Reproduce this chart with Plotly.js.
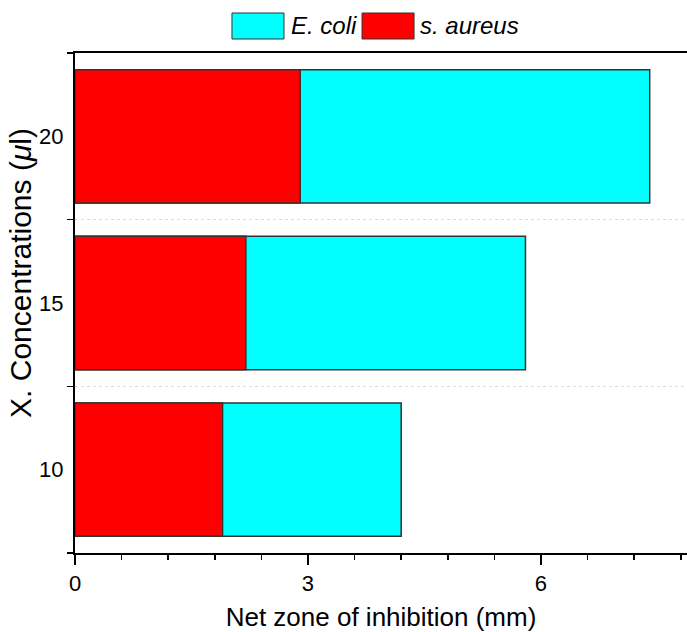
<!DOCTYPE html>
<html>
<head>
<meta charset="utf-8">
<script src="https://cdn.plot.ly/plotly-3.0.1.min.js"></script>
<style>html,body{margin:0;padding:0;background:#fff;}#chart{width:687px;height:632px;}</style>
</head>
<body>
<div id="chart"></div>
<script>
const categories = ["10", "15", "20"];
const seriesNames = ["E. coli", "s. aureus"];
const ecoli = [4.2, 5.8, 7.4];
const saureus = [1.9, 2.2, 2.9];
const xTickVals = [0, 3, 6];
const colors = ["#00ffff", "#ff0000"];

const font = "Liberation Sans, Arial, sans-serif";

const traces = [
  {type: "bar", orientation: "h", name: seriesNames[0], y: categories, x: ecoli,
   width: 0.8, marker: {color: colors[0], line: {color: "#333333", width: 1.5}}, showlegend: false, hoverinfo: "x+y+name"},
  {type: "bar", orientation: "h", name: seriesNames[1], y: categories, x: saureus,
   width: 0.8, marker: {color: colors[1], line: {color: "#333333", width: 1.5}}, showlegend: false, hoverinfo: "x+y+name"}
];

const legendBoxes = [[0.2565, 0.3415], [0.4690, 0.5540]];
const legendTextX = [0.349, 0.561];
const shapes = [];
const annotations = [];
for (let i = 0; i < seriesNames.length; i++) {
  shapes.push({type: "rect", xref: "paper", yref: "paper", x0: legendBoxes[i][0], x1: legendBoxes[i][1], y0: 1.028, y1: 1.080,
    fillcolor: colors[i], line: {color: "#333333", width: 1}});
  annotations.push({xref: "paper", yref: "paper", x: legendTextX[i], y: 1.054, xanchor: "left", yanchor: "middle",
    text: "<i>" + seriesNames[i] + "</i>", showarrow: false, font: {family: font, size: 24, color: "#000"}});
}
annotations.push({xref: "paper", yref: "paper", x: -0.09, y: 0.56, xanchor: "center", yanchor: "middle", textangle: -90,
  text: "X. Concentrations (<i>μ</i>l)", showarrow: false, font: {family: font, size: 30, color: "#000"}});

const layout = {
  width: 687, height: 632,
  margin: {l: 75, r: 0, t: 53, b: 79},
  paper_bgcolor: "#fff", plot_bgcolor: "#fff",
  barmode: "overlay",
  showlegend: false,
  font: {family: font, color: "#000"},
  xaxis: {
    range: [0, 7.88], tickvals: xTickVals, ticks: "outside", ticklen: 10, tickwidth: 1.5, tickcolor: "#000",
    minor: {dtick: 0.6, ticks: "outside", ticklen: 5, tickwidth: 1.5, tickcolor: "#000", showgrid: false},
    showline: true, linewidth: 2, linecolor: "#000", mirror: true, showgrid: false, zeroline: false,
    tickfont: {family: font, size: 22, color: "#000"},
    title: {text: "Net zone of inhibition (mm)", font: {family: font, size: 26, color: "#000"}, standoff: 13}
  },
  yaxis: {
    type: "category", categoryorder: "array", categoryarray: categories, range: [-0.5, 2.5],
    tickson: "boundaries", ticks: "outside", ticklen: 6, tickwidth: 1.5, tickcolor: "#000",
    showline: true, linewidth: 2, linecolor: "#000", mirror: false,
    showgrid: true, gridcolor: "#dcdcdc", griddash: "dot", gridwidth: 1, zeroline: false,
    tickfont: {family: font, size: 22, color: "#000"}, ticklabelstandoff: 5
  },
  shapes: shapes,
  annotations: annotations
};

Plotly.newPlot("chart", traces, layout, {displayModeBar: false, staticPlot: true});
</script>
</body>
</html>
